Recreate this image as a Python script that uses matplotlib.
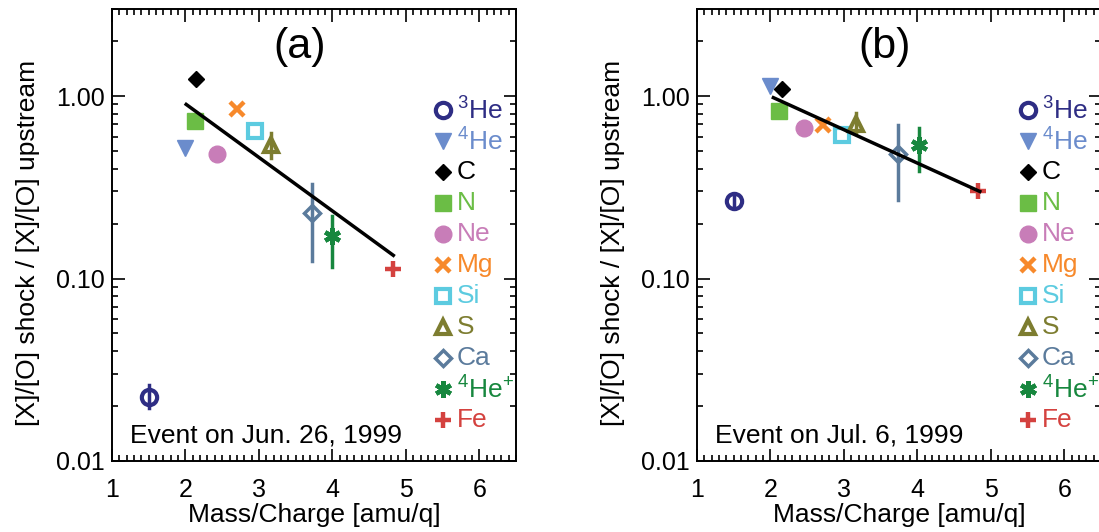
import numpy as np
import matplotlib
matplotlib.use("Agg")
import matplotlib.pyplot as plt
from matplotlib.ticker import FixedLocator, MultipleLocator, LogLocator, NullFormatter

plt.rcParams["font.family"] = ["Liberation Sans", "DejaVu Sans"]
plt.rcParams["mathtext.fontset"] = "custom"
plt.rcParams["mathtext.rm"] = "Liberation Sans"

# species (same order for both events)
species = ["3He", "4He", "C", "N", "Ne", "Mg", "Si", "S", "Ca", "4He+", "Fe"]
labels = [r"$^\mathrm{3}$He", r"$^\mathrm{4}$He", "C", "N", "Ne", "Mg", "Si", "S", "Ca",
          r"$^\mathrm{4}$He$^\mathrm{+}$", "Fe"]
colors = ["#2e2d84", "#6b8ccc", "#000000", "#6bbd45", "#c87db8", "#f7892b",
          "#5ccbe0", "#7d7d30", "#5b7b9c", "#17873e", "#d4423f"]

# event (a): Jun. 26, 1999
mq_a = [1.50, 2.00, 2.14, 2.13, 2.43, 2.70, 2.95, 3.16, 3.72, 4.00, 4.83]
ratio_a = [0.0225, 0.52, 1.24, 0.73, 0.48, 0.85, 0.64, 0.54, 0.23, 0.172, 0.113]
err_lo_a = [0.0195, None, None, None, None, None, None, 0.46, 0.125, 0.116, None]
err_hi_a = [0.026, None, None, None, None, None, None, 0.63, 0.33, 0.22, None]
fit_x_a = [2.01, 4.83]
fit_y_a = [0.90, 0.134]

# event (b): Jul. 6, 1999
mq_b = [1.50, 2.00, 2.16, 2.12, 2.46, 2.72, 2.98, 3.17, 3.73, 4.02, 4.83]
ratio_b = [0.267, 1.13, 1.09, 0.83, 0.67, 0.69, 0.61, 0.70, 0.48, 0.54, 0.30]
err_lo_b = [0.245, None, None, None, None, None, None, 0.63, 0.27, 0.39, None]
err_hi_b = [0.29, None, None, None, None, None, None, 0.81, 0.69, 0.67, None]
fit_x_b = [2.04, 4.85]
fit_y_b = [0.98, 0.30]

# marker style per species: (marker, filled, size, edge width)
styles = [("o", False, 11, 3.0), ("v", True, 11, 1), ("D", True, 8, 1), ("s", True, 12, 1),
          ("o", True, 12, 1), ("x", False, 10, 3.2), ("s", False, 10, 3.0), ("^", False, 10, 3.0),
          ("D", False, 8, 2.5), ((6, 2, 0), False, 12, 3.2), ("+", False, 11, 3.2)]


def draw_marker(ax, x, y, i, **kw):
    m, filled, ms, mew = styles[i]
    c = colors[i]
    ax.plot(x, y, marker=m, ms=ms, mew=mew, color=c, mec=c,
            mfc=c if filled else "none", ls="none", clip_on=False, **kw)


def panel(ax, mq, ratio, lo, hi, fx, fy, tag, event):
    for i in range(len(species)):
        if lo[i] is not None:
            ax.plot([mq[i], mq[i]], [lo[i], hi[i]], color=colors[i], lw=2.5, zorder=2)
        draw_marker(ax, mq[i], ratio[i], i, zorder=3)
    ax.plot(fx, fy, color="black", lw=2.5, zorder=4)

    ax.set_yscale("log")
    ax.set_xlim(1, 6.5)
    ax.set_ylim(0.01, 3.0)
    ax.set_xticks([1, 2, 3, 4, 5, 6])
    ax.xaxis.set_minor_locator(MultipleLocator(0.1))
    ax.yaxis.set_major_locator(FixedLocator([0.01, 0.1, 1.0]))
    ax.set_yticklabels(["0.01", "0.10", "1.00"])
    ax.yaxis.set_minor_locator(LogLocator(base=10, subs=np.arange(2, 10)))
    ax.yaxis.set_minor_formatter(NullFormatter())
    ax.tick_params(which="both", direction="in", top=True, right=True, width=1.2,
                   labelsize=18)
    ax.tick_params(axis="x", which="major", pad=12)
    ax.tick_params(axis="y", which="major", pad=5)
    ax.tick_params(which="major", length=9)
    ax.tick_params(which="minor", length=4.5)
    for s in ax.spines.values():
        s.set_linewidth(1.4)

    ax.set_xlabel("Mass/Charge [amu/q]", fontsize=19, va="center")
    ax.xaxis.set_label_coords(0.5, -0.119)
    ax.set_ylabel("[X]/[O] shock / [X]/[O] upstream", fontsize=19, va="center")
    ax.yaxis.set_label_coords(-0.208, 0.482)
    ax.text(0.465, 0.915, tag, transform=ax.transAxes, fontsize=31, ha="center", va="center")
    ax.text(0.045, 0.04, event, transform=ax.transAxes, fontsize=19, ha="left", va="baseline")

    # hand-made legend with coloured labels
    for i in range(len(species)):
        yy = 0.777 - i * 0.0686
        draw_marker(ax, 0.819, yy, i, transform=ax.transAxes, zorder=5)
        ax.text(0.853, yy, labels[i], transform=ax.transAxes, color=colors[i],
                fontsize=19, ha="left", va="center")


fig = plt.figure(figsize=(10.99, 5.32), dpi=100)
W, H = 1099.0, 532.0
ax_a = fig.add_axes([112 / W, (H - 461) / H, 404 / W, 452 / H])
ax_b = fig.add_axes([697 / W, (H - 461) / H, 404 / W, 452 / H])

panel(ax_a, mq_a, ratio_a, err_lo_a, err_hi_a, fit_x_a, fit_y_a, "(a)", "Event on Jun. 26, 1999")
panel(ax_b, mq_b, ratio_b, err_lo_b, err_hi_b, fit_x_b, fit_y_b, "(b)", "Event on Jul. 6, 1999")

fig.savefig("out.png", dpi=100)
